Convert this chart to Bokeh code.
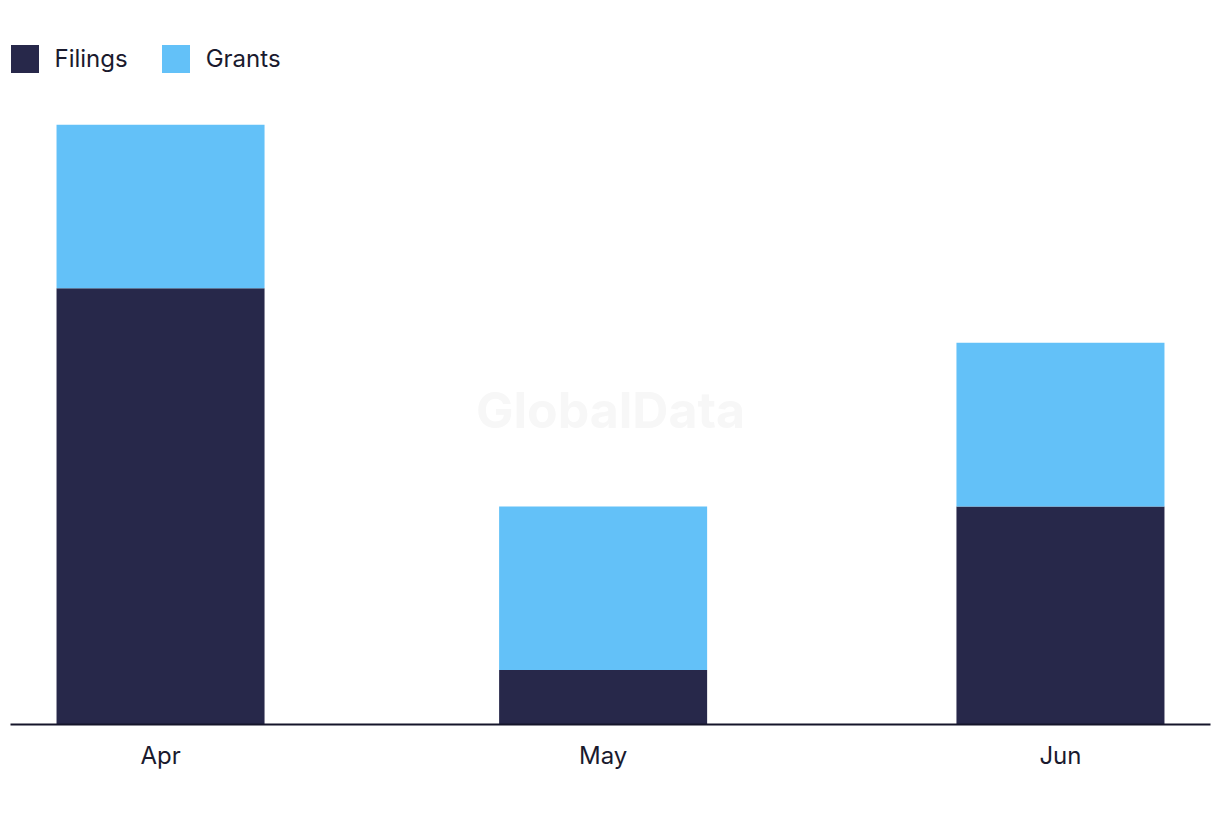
import pandas as pd
from bokeh.plotting import figure
from bokeh.models import ColumnDataSource, Range1d, FixedTicker, DatetimeTickFormatter, Legend, LegendItem, Label
from bokeh.embed import file_html
from bokeh.resources import INLINE

months = ["2024-04-01", "2024-05-01", "2024-06-01"]
filings = [8, 1, 4]
grants = [3, 3, 3]
series = ["Filings", "Grants"]
colors = ["#27284A", "#63C1F8"]

dates = pd.to_datetime(months)
src = ColumnDataSource(dict(x=dates, Filings=filings, Grants=grants))

DAY = 86400000
pad = pd.Timedelta(days=10.17)
x0 = dates[0] - pad
x1 = dates[-1] + pad

p = figure(width=1220, height=822, output_backend="svg", toolbar_location=None,
           x_axis_type="datetime",
           x_range=Range1d(x0, x1), y_range=Range1d(0, 13.28),
           min_border_left=10, min_border_right=10, min_border_top=0, min_border_bottom=98)
p.outline_line_color = None
p.xgrid.visible = False
p.ygrid.visible = False
p.yaxis.visible = False

renderers = p.vbar_stack(series, x="x", width=14.1 * DAY, color=colors, source=src, line_color=None)

ax = p.xaxis[0]
ax.ticker = FixedTicker(ticks=[d.value // 10**6 for d in dates])
fmt = "%b"
ax.formatter = DatetimeTickFormatter(months=fmt, days=fmt, hours=fmt, years=fmt, minutes=fmt,
                                     seconds=fmt, milliseconds=fmt, minsec=fmt, hourmin=fmt)
ax.axis_line_color = "#15152A"
ax.axis_line_width = 2
ax.major_tick_line_color = None
ax.minor_tick_line_color = None
ax.major_label_text_font = "Inter"
ax.major_label_text_font_size = "24px"
ax.major_label_text_color = "#1A1A2E"
ax.major_label_standoff = 10

mid = x0 + (x1 - x0) / 2
wm = Label(x=mid, y=5.76, text="GlobalData", text_font="Inter", text_font_style="bold",
           text_font_size="50px", text_color="#F7F7F7", text_align="center", text_baseline="middle")
p.add_layout(wm)

legend = Legend(items=[LegendItem(label=s, renderers=[r]) for s, r in zip(series, renderers)],
                location=(-3.5, 648.5), orientation="horizontal",
                glyph_width=35, glyph_height=35, label_standoff=13, spacing=30,
                padding=0, margin=0, border_line_color=None, background_fill_alpha=0,
                label_text_font="Inter", label_text_font_size="24px", label_text_color="#1A1A2E")
p.add_layout(legend)

open("out.html", "w").write(file_html(p, INLINE))
